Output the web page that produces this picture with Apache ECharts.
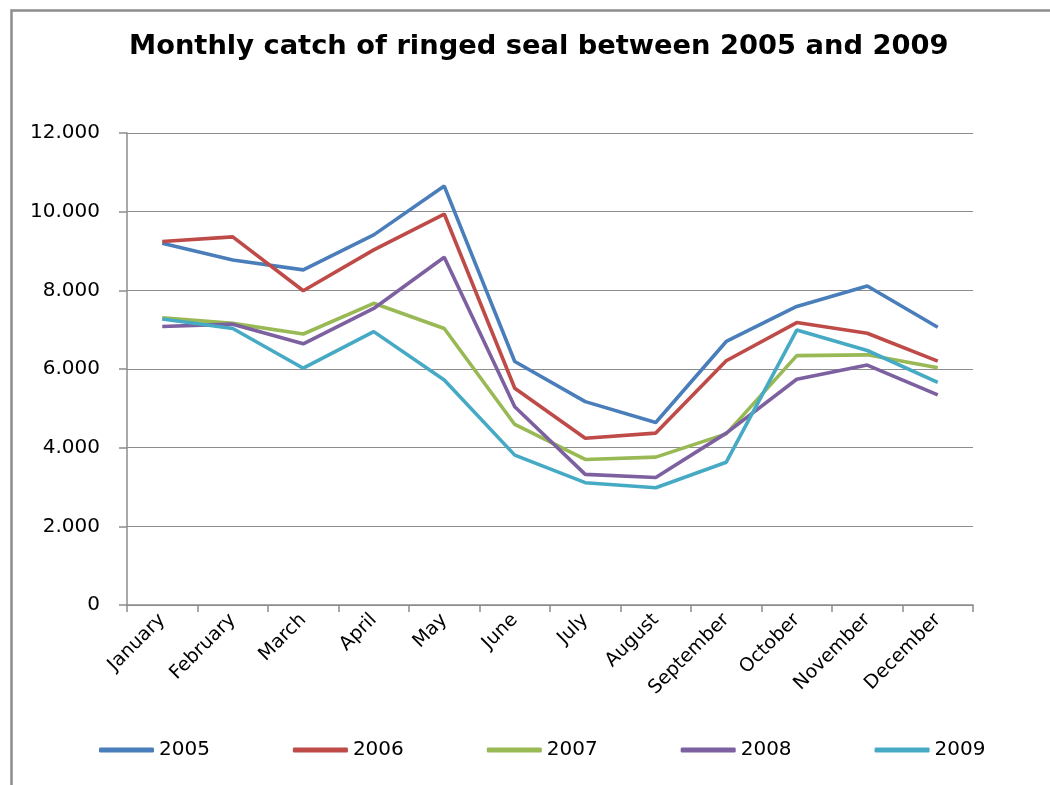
<!DOCTYPE html>
<html><head><meta charset="utf-8">
<script src="https://cdn.jsdelivr.net/npm/echarts@6/dist/echarts.min.js"></script>
<style>html,body{margin:0;padding:0;background:#fff}#c{width:1050px;height:785px}</style>
</head><body><div id="c"></div>
<script>
const months = ['January','February','March','April','May','June','July','August','September','October','November','December'];
const years = ['2005','2006','2007','2008','2009'];
const s2005 = [9200, 8770, 8520, 9410, 10650, 6190, 5170, 4640, 6700, 7590, 8110, 7060];
const s2006 = [9240, 9360, 7990, 9030, 9940, 5510, 4240, 4370, 6210, 7180, 6910, 6200];
const s2007 = [7300, 7160, 6890, 7670, 7030, 4590, 3700, 3760, 4350, 6340, 6360, 6030];
const s2008 = [7080, 7140, 6640, 7540, 8840, 5040, 3320, 3240, 4370, 5740, 6100, 5340];
const s2009 = [7270, 7030, 6020, 6950, 5720, 3810, 3110, 2980, 3630, 6990, 6470, 5660];
const yTicks = [0, 2000, 4000, 6000, 8000, 10000, 12000];
const colors = ['#4A7EBB', '#BE4B48', '#98B954', '#7D60A0', '#46AAC5'];
const allSeries = [s2005, s2006, s2007, s2008, s2009];

const FONT = '"DejaVu Sans", Verdana, sans-serif';
const chart = echarts.init(document.getElementById('c'), null, {renderer: 'canvas'});
chart.setOption({
  animation: false,
  backgroundColor: '#fff',
  color: colors,
  graphic: [{
    type: 'rect', left: 9, top: 8, silent: true,
    shape: {width: 1200, height: 900},
    style: {fill: 'none', stroke: '#8c8c8c', lineWidth: 2.5}
  }],
  title: {
    text: 'Monthly catch of ringed seal between 2005 and 2009',
    left: 124, top: 28,
    textStyle: {fontFamily: FONT, fontWeight: 'bold', fontSize: 27.3, color: '#000'}
  },
  legend: {
    data: years, top: 735, left: 94,
    itemGap: 83, itemWidth: 55, itemHeight: 5, icon: 'roundRect',
    textStyle: {fontFamily: FONT, fontSize: 20, color: '#000'}
  },
  grid: {left: 127, right: 77, top: 133, bottom: 180},
  xAxis: {
    type: 'category', data: months, boundaryGap: true,
    axisLine: {lineStyle: {color: '#8c8c8c', width: 1.5}},
    axisTick: {show: true, length: 7, lineStyle: {color: '#8c8c8c', width: 1.5}},
    axisLabel: {rotate: 45, interval: 0, fontFamily: FONT, fontSize: 19, color: '#000', margin: 12}
  },
  yAxis: {
    type: 'value', min: 0, max: 12000, interval: 2000,
    axisLine: {show: true, lineStyle: {color: '#8c8c8c', width: 1.5}},
    axisTick: {show: true, length: 8, lineStyle: {color: '#8c8c8c', width: 1.5}},
    splitLine: {lineStyle: {color: '#8c8c8c', width: 1}},
    axisLabel: {
      fontFamily: FONT, fontSize: 20, color: '#000', margin: 27,
      formatter: v => yTicks.includes(v) ? (v === 0 ? '0' : (v / 1000).toFixed(3)) : ''
    }
  },
  series: allSeries.map((d, i) => ({
    name: years[i], type: 'line', data: d, symbol: 'none',
    lineStyle: {width: 3.6, color: colors[i]}
  }))
});
</script></body></html>
